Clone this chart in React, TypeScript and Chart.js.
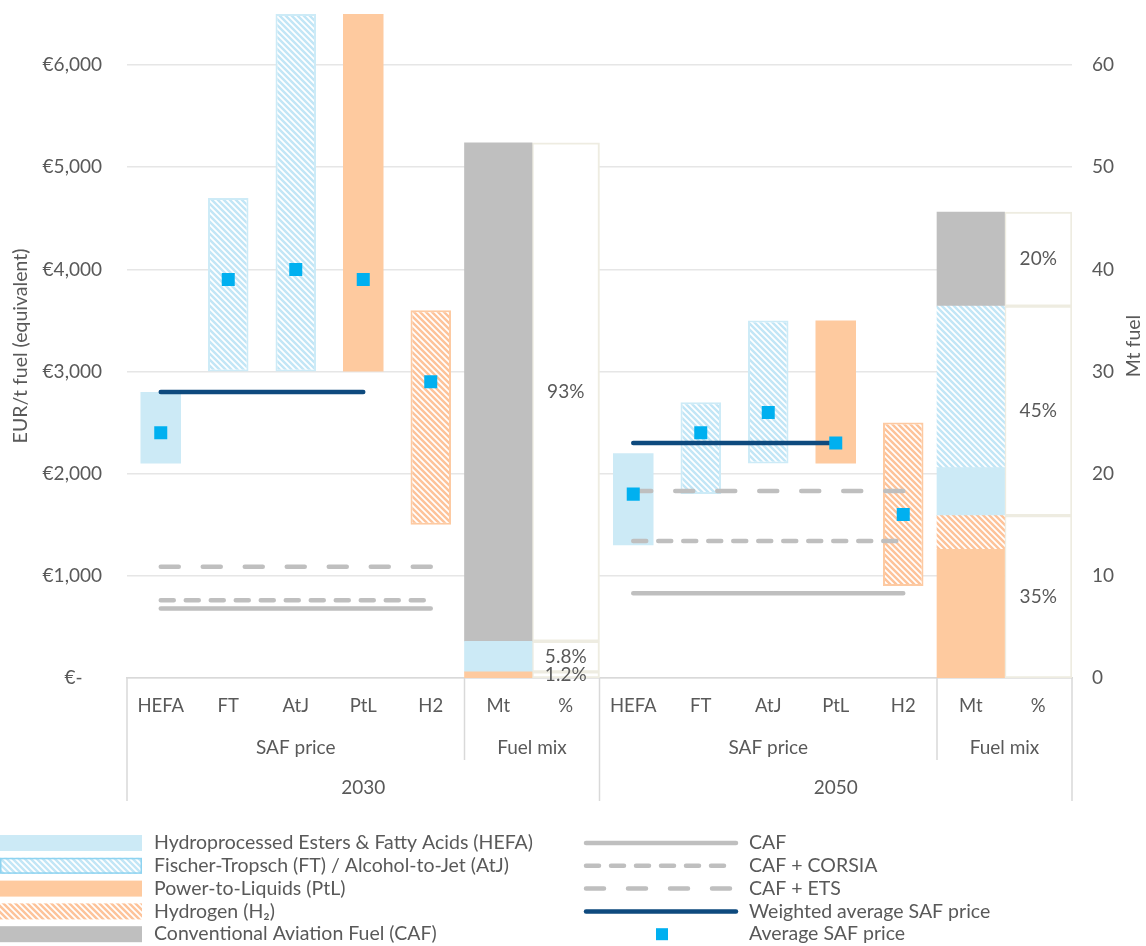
import React, { useEffect, useRef } from 'react';
import { Chart, registerables } from 'chart.js';

Chart.register(...registerables);

// ---------------- data ----------------
const categories = ['HEFA', 'FT', 'AtJ', 'PtL', 'H2', 'Mt', '%', 'HEFA', 'FT', 'AtJ', 'PtL', 'H2', 'Mt', '%'];
const groupNames = ['SAF price', 'Fuel mix'];
const groupSizes = [5, 2];
const years = ['2030', '2050'];

const leftTickValues = [0, 1000, 2000, 3000, 4000, 5000, 6000];
const leftTickLabels = ['€-    ', '€1,000', '€2,000', '€3,000', '€4,000', '€5,000', '€6,000'];
const rightTickValues = [0, 10, 20, 30, 40, 50, 60];
const rightTickLabels = ['0', '10', '20', '30', '40', '50', '60'];

// SAF price ranges, EUR/t fuel  [2030, 2050]
const hefaLow = [2100, 1300];
const hefaHigh = [2800, 2200];
const ftLow = [3000, 1800];
const ftHigh = [4700, 2700];
const atjLow = [3000, 2100];
const atjHigh = [6500, 3500];
const ptlLow = [3000, 2100];
const ptlHigh = [6500, 3500];
const h2Low = [1500, 900];
const h2High = [3600, 2500];

// average SAF price per pathway (HEFA, FT, AtJ, PtL, H2)
const avgPrice2030 = [2400, 3900, 4000, 3900, 2900];
const avgPrice2050 = [1800, 2400, 2600, 2300, 1600];
const weightedAvgPrice = [2800, 2300];
const cafPrice = [680, 830];
const cafCorsiaPrice = [760, 1340];
const cafEtsPrice = [1090, 1830];

// Fuel mix, Mt fuel  [2030, 2050]
const mixPtL = [0.6, 12.6];
const mixH2 = [0, 3.3];
const mixHEFA = [3.0, 4.7];
const mixFTAtJ = [0, 15.8];
const mixCAF = [48.8, 9.2];

const pctLabels2030 = ['1.2%', '5.8%', '93%'];
const pctLabels2050 = ['35%', '45%', '20%'];

const legendLeftLabels = [
  'Hydroprocessed Esters & Fatty Acids (HEFA)',
  'Fischer-Tropsch (FT) / Alcohol-to-Jet (AtJ)',
  'Power-to-Liquids (PtL)',
  'Hydrogen (H\u2082)',
  'Conventional Aviation Fuel (CAF)',
];
const legendRightLabels = ['CAF', 'CAF + CORSIA', 'CAF + ETS', 'Weighted average SAF price', 'Average SAF price'];

const leftTitle = 'EUR/t fuel (equivalent)';
const rightTitle = 'Mt fuel';

// ---------------- styles ----------------
const FONT = 'Lato, "Open Sans", sans-serif';
const FS = 19;
const FS_CAT = 18.5;
const FS_LEGEND = 19.5;
const FS_TITLE = 19.5;
const TEXT = '#595959';
const AXIS = '#D9D9D9';
const GRID = '#E6E6E6';
const LIGHT_BLUE = '#CCEAF6';
const BLUE_STRIPE = '#C2E6F6';
const BLUE_BORDER = '#CDEBF7';
const ORANGE = '#FECA9F';
const ORANGE_STRIPE = '#FDC39A';
const ORANGE_BORDER = '#FDCAA2';
const GRAY = '#BFBFBF';
const NAVY = '#0E4A7E';
const CYAN = '#00B0F0';
const BEIGE = '#EEECE1';
const CORSIA_DASH = [13, 12];
const ETS_DASH = [18, 24];
const LINE_W = 4.5;

export default function App() {
  const ref = useRef<HTMLCanvasElement>(null);

  useEffect(() => {
    const canvas = ref.current as HTMLCanvasElement;
    const ctx = canvas.getContext('2d') as CanvasRenderingContext2D;

    const makeHatch = (stripe: string) => {
      const s = 6;
      const c = document.createElement('canvas');
      c.width = s;
      c.height = s;
      const g = c.getContext('2d') as CanvasRenderingContext2D;
      g.fillStyle = '#ffffff';
      g.fillRect(0, 0, s, s);
      g.strokeStyle = stripe;
      g.lineWidth = 2.5;
      g.beginPath();
      for (const o of [-s, 0, s]) {
        g.moveTo(o - 1, -1);
        g.lineTo(o + s + 1, s + 1);
      }
      g.stroke();
      return ctx.createPattern(c, 'repeat') as CanvasPattern;
    };
    const blueHatch = makeHatch(BLUE_STRIPE);
    const orangeHatch = makeHatch(ORANGE_STRIPE);

    const N = categories.length;
    const perYear = groupSizes.reduce((a, b) => a + b, 0);
    const mtIdx = perYear - 2;
    const pctIdx = perYear - 1;
    const blank = (): any[] => new Array(N).fill(null);

    const rangeSeries = (pairs: [number[], number[], number][]) => {
      const d = blank();
      years.forEach((_, y) => {
        pairs.forEach(([lo, hi, pos]) => {
          d[y * perYear + pos] = [lo[y], hi[y]];
        });
      });
      return d;
    };
    const hefaPrice = rangeSeries([[hefaLow, hefaHigh, 0]]);
    const ftAtjPrice = rangeSeries([[ftLow, ftHigh, 1], [atjLow, atjHigh, 2]]);
    const ptlPrice = rangeSeries([[ptlLow, ptlHigh, 3]]);
    const h2Price = rangeSeries([[h2Low, h2High, 4]]);

    const lineSeries = (vals: number[], count: number) => {
      const d = blank();
      years.forEach((_, y) => {
        for (let i = 0; i < count; i++) d[y * perYear + i] = vals[y];
      });
      return d;
    };
    const avgData = blank();
    [avgPrice2030, avgPrice2050].forEach((arr, y) => arr.forEach((v, i) => (avgData[y * perYear + i] = v)));

    const mixOrder = [mixPtL, mixH2, mixHEFA, mixFTAtJ, mixCAF];
    const mixData = mixOrder.map(() => blank());
    years.forEach((_, y) => {
      let c = 0;
      mixOrder.forEach((arr, k) => {
        const v = arr[y];
        if (v > 0) mixData[k][y * perYear + mtIdx] = [c, c + v];
        c += v;
      });
    });
    const pctGroups = [[0, 1], [2, 3], [4]];
    const pctData = pctGroups.map(() => blank());
    years.forEach((_, y) => {
      let c = 0;
      pctGroups.forEach((g, k) => {
        const v = g.reduce((s, i) => s + mixOrder[i][y], 0);
        pctData[k][y * perYear + pctIdx] = [c, c + v];
        c += v;
      });
    });
    const pctLabels = [pctLabels2030, pctLabels2050];

    const priceBar = { type: 'bar', grouped: false, categoryPercentage: 1, barPercentage: 0.6, borderSkipped: false, yAxisID: 'y', order: 3 };
    const mixBar = { type: 'bar', grouped: false, categoryPercentage: 1, barPercentage: 1, borderSkipped: false, borderWidth: 0, yAxisID: 'y1', order: 3 };
    const lineBase = { type: 'line', yAxisID: 'y', pointRadius: 0, borderWidth: LINE_W, borderCapStyle: 'round', spanGaps: false, fill: false, order: 1 };

    const datasets: any[] = [
      { type: 'line', label: 'Average SAF price', data: avgData, showLine: false, pointStyle: 'rect', pointRadius: 9.2, pointHoverRadius: 9.2, pointBorderWidth: 0, backgroundColor: CYAN, borderColor: CYAN, yAxisID: 'y', order: 0 },
      { ...lineBase, label: 'Weighted average SAF price', data: lineSeries(weightedAvgPrice, 4), borderColor: NAVY },
      { ...lineBase, label: 'CAF', data: lineSeries(cafPrice, 5), borderColor: GRAY },
      { ...lineBase, label: 'CAF + CORSIA', data: lineSeries(cafCorsiaPrice, 5), borderColor: GRAY, borderDash: CORSIA_DASH },
      { ...lineBase, label: 'CAF + ETS', data: lineSeries(cafEtsPrice, 5), borderColor: GRAY, borderDash: ETS_DASH },
      { ...priceBar, label: 'HEFA price', data: hefaPrice, backgroundColor: LIGHT_BLUE, borderWidth: 0 },
      { ...priceBar, label: 'FT / AtJ price', data: ftAtjPrice, backgroundColor: blueHatch, borderColor: BLUE_BORDER, borderWidth: 2 },
      { ...priceBar, label: 'PtL price', data: ptlPrice, backgroundColor: ORANGE, borderWidth: 0 },
      { ...priceBar, label: 'H2 price', data: h2Price, backgroundColor: orangeHatch, borderColor: ORANGE_BORDER, borderWidth: 2 },
      { ...mixBar, label: 'PtL Mt', data: mixData[0], backgroundColor: ORANGE },
      { ...mixBar, label: 'H2 Mt', data: mixData[1], backgroundColor: orangeHatch },
      { ...mixBar, label: 'HEFA Mt', data: mixData[2], backgroundColor: LIGHT_BLUE },
      { ...mixBar, label: 'FT/AtJ Mt', data: mixData[3], backgroundColor: blueHatch },
      { ...mixBar, label: 'CAF Mt', data: mixData[4], backgroundColor: GRAY },
      ...pctData.map((d, k) => ({ ...mixBar, label: 'share ' + k, pctIndex: k, data: d, backgroundColor: '#ffffff', borderColor: BEIGE, borderWidth: 2 })),
    ];

    const decor = {
      id: 'decor',
      afterDraw(chart: any) {
        const c = chart.ctx as CanvasRenderingContext2D;
        const xs = chart.scales.x;
        const area = chart.chartArea;
        const w = (xs.right - xs.left) / N;
        const axisY = xs.top;
        const line = (x1: number, y1: number, x2: number, y2: number) => {
          c.beginPath();
          c.moveTo(x1, y1);
          c.lineTo(x2, y2);
          c.stroke();
        };
        c.save();
        // multi-level category axis
        c.strokeStyle = AXIS;
        c.lineWidth = 1.5;
        c.setLineDash([]);
        for (let yi = 0; yi <= years.length; yi++) {
          const x = xs.left + yi * perYear * w;
          line(x, axisY, x, axisY + 123);
        }
        years.forEach((_, yi) => {
          let acc = 0;
          groupSizes.forEach((g, gi) => {
            acc += g;
            if (gi < groupSizes.length - 1) {
              const x = xs.left + (yi * perYear + acc) * w;
              line(x, axisY, x, axisY + 82);
            }
          });
        });
        c.fillStyle = TEXT;
        c.font = `${FS}px ${FONT}`;
        c.textAlign = 'center';
        c.textBaseline = 'middle';
        years.forEach((yr, yi) => {
          let acc = 0;
          groupSizes.forEach((g, gi) => {
            const x0 = xs.left + (yi * perYear + acc) * w;
            c.fillText(groupNames[gi], x0 + (g * w) / 2, axisY + 70);
            acc += g;
          });
          c.fillText(yr, xs.left + (yi * perYear + perYear / 2) * w, axisY + 110);
        });

        // share labels
        chart.data.datasets.forEach((ds: any, di: number) => {
          if (ds.pctIndex === undefined) return;
          const meta = chart.getDatasetMeta(di);
          years.forEach((_, yi) => {
            const el = meta.data[yi * perYear + pctIdx];
            if (!el) return;
            c.fillText(pctLabels[yi][ds.pctIndex], el.x, (el.y + el.base) / 2);
          });
        });

        // axis titles
        const midY = (area.top + area.bottom) / 2;
        c.font = `${FS_TITLE}px ${FONT}`;
        c.save();
        c.translate(21, midY);
        c.rotate(-Math.PI / 2);
        c.fillText(leftTitle, 0, 0);
        c.restore();
        c.save();
        c.translate(1134, midY);
        c.rotate(-Math.PI / 2);
        c.fillText(rightTitle, 0, 0);
        c.restore();

        // legend
        c.font = `${FS_LEGEND}px ${FONT}`;
        const rowY = (k: number) => 843 + k * 22.8;
        const leftFills = [LIGHT_BLUE, blueHatch, ORANGE, orangeHatch, GRAY];
        c.textAlign = 'left';
        legendLeftLabels.forEach((lab, k) => {
          const y = rowY(k);
          c.fillStyle = leftFills[k] as any;
          c.fillRect(0, y - 8, 142, 16);
          if (k === 1) {
            c.strokeStyle = '#8ED3F0';
            c.lineWidth = 1.5;
            c.strokeRect(0.75, y - 7.25, 140.5, 14.5);
          }
          c.fillStyle = TEXT;
          c.fillText(lab, 154, y);
        });
        const rightStyles = [
          { color: GRAY, dash: [] as number[] },
          { color: GRAY, dash: CORSIA_DASH },
          { color: GRAY, dash: ETS_DASH },
          { color: NAVY, dash: [] as number[] },
        ];
        legendRightLabels.forEach((lab, k) => {
          const y = rowY(k);
          if (k < rightStyles.length) {
            c.strokeStyle = rightStyles[k].color;
            c.lineWidth = LINE_W;
            c.lineCap = 'round';
            c.setLineDash(rightStyles[k].dash);
            line(586, y, 736, y);
            c.setLineDash([]);
          } else {
            c.fillStyle = CYAN;
            c.fillRect(656, y - 6, 12, 12);
          }
          c.fillStyle = TEXT;
          c.fillText(lab, 749, y);
        });
        c.restore();
      },
    };

    const noPad = (s: any) => {
      s.paddingTop = 0;
      s.paddingBottom = 0;
      s.paddingLeft = 0;
      s.paddingRight = 0;
    };

    const chart = new Chart(canvas, {
      type: 'bar',
      data: { labels: categories, datasets },
      options: {
        animation: false,
        responsive: true,
        maintainAspectRatio: false,
        events: [],
        layout: { padding: { top: 14, left: 0, right: 0, bottom: 0 } },
        font: { family: FONT, size: FS },
        plugins: { legend: { display: false }, tooltip: { enabled: false } },
        scales: {
          x: {
            type: 'category',
            offset: true,
            grid: { display: false, drawTicks: false },
            border: { display: true, color: AXIS, width: 1.5 },
            ticks: { color: TEXT, font: { family: FONT, size: FS_CAT }, padding: 17, autoSkip: false, maxRotation: 0 },
            afterFit: (s: any) => {
              s.height = 268;
              noPad(s);
            },
          },
          y: {
            type: 'linear',
            position: 'left',
            min: 0,
            max: 6500,
            bounds: 'data',
            grid: { display: true, color: GRID, lineWidth: 1.5, drawTicks: false },
            border: { display: false },
            afterBuildTicks: (s: any) => {
              s.ticks = leftTickValues.map((v) => ({ value: v }));
            },
            ticks: {
              autoSkip: false,
              padding: 25,
              color: TEXT,
              font: { family: FONT, size: FS },
              callback: (v: any) => leftTickLabels[leftTickValues.indexOf(Number(v))],
            },
            afterFit: (s: any) => {
              s.width = 127;
              noPad(s);
            },
          },
          y1: {
            type: 'linear',
            position: 'right',
            min: 0,
            max: 65,
            bounds: 'data',
            grid: { display: false, drawTicks: false },
            border: { display: false },
            afterBuildTicks: (s: any) => {
              s.ticks = rightTickValues.map((v) => ({ value: v }));
            },
            ticks: {
              autoSkip: false,
              padding: 20,
              color: TEXT,
              font: { family: FONT, size: FS },
              callback: (v: any) => rightTickLabels[rightTickValues.indexOf(Number(v))],
            },
            afterFit: (s: any) => {
              s.width = 74;
              noPad(s);
            },
          },
        },
      } as any,
      plugins: [decor],
    } as any);

    return () => chart.destroy();
  }, []);

  return (
    <div style={{ position: 'absolute', left: 0, top: 0, width: 1146, height: 946, background: '#ffffff' }}>
      <canvas ref={ref} />
    </div>
  );
}
